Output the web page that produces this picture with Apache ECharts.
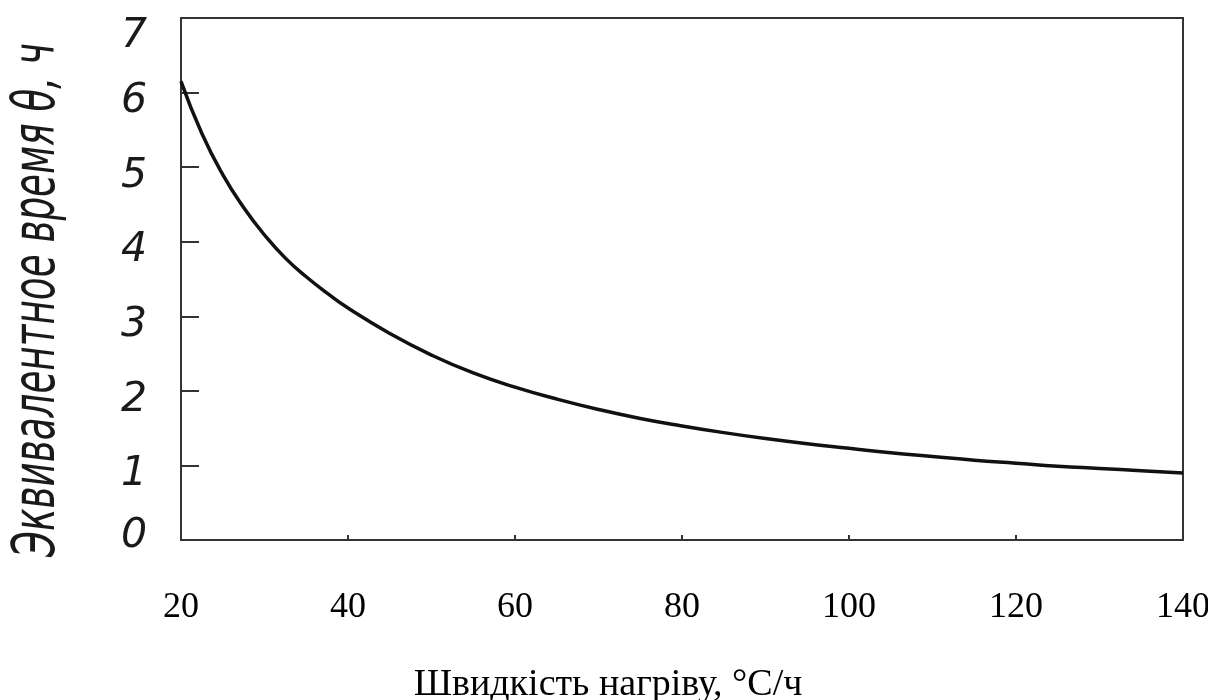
<!DOCTYPE html>
<html>
<head>
<meta charset="utf-8">
<script src="https://cdn.jsdelivr.net/npm/echarts@6/dist/echarts.min.js"></script>
<style>
  html, body { margin: 0; padding: 0; background: #fff; }
  #chart { width: 1208px; height: 700px; }
</style>
</head>
<body>
<div id="chart"></div>
<script>
// Heating rate, °C/h
const heatingRate = [20, 22.5, 25, 27.5, 30, 32.5, 35, 37.5, 40, 45, 50, 55, 60, 65, 70, 75, 80, 85, 90, 95, 100, 105, 110, 115, 120, 125, 130, 135, 140];
// Equivalent time θ, h
const equivTime = [6.15, 5.45, 4.90, 4.46, 4.09, 3.78, 3.53, 3.31, 3.11, 2.77, 2.48, 2.24, 2.05, 1.89, 1.75, 1.63, 1.53, 1.44, 1.36, 1.29, 1.23, 1.17, 1.12, 1.07, 1.03, 0.99, 0.96, 0.93, 0.90];

const xTitle = 'Швидкість нагріву, °С/ч';
const yTitle = 'Эквивалентное время θ, ч';

const frameColor = '#333';

// Rotated y title is drawn condensed along its length
const yTitleFont = 'italic 58px "DejaVu Sans"';
const yTitleLength = 514;
const ctx = document.createElement('canvas').getContext('2d');
ctx.font = yTitleFont;
const yTitleScale = yTitleLength / ctx.measureText(yTitle).width;

const chart = echarts.init(document.getElementById('chart'), null, { renderer: 'canvas' });

const yLabelStyle = { fontFamily: '"DejaVu Sans", sans-serif', fontStyle: 'italic', fontSize: 41, color: '#1a1a1a' };

function yLabel(v) {
  if (v === 0) return '{low|' + v + '}';
  if (v === 7) return '{top|' + v + '}';
  return '{n|' + v + '}';
}

chart.setOption({
  animation: false,
  backgroundColor: '#fff',
  grid: {
    left: 181, right: 25, top: 18, bottom: 160,
    outerBoundsMode: 'none',
    show: true, borderColor: frameColor, borderWidth: 2, backgroundColor: 'transparent'
  },
  xAxis: {
    type: 'value',
    min: 20, max: 140, interval: 20,
    name: xTitle,
    nameLocation: 'middle',
    nameGap: 126,
    nameTextStyle: {
      fontFamily: '"Liberation Serif", serif', fontSize: 38, color: '#000',
      padding: [0, 148, 0, 0]
    },
    axisLine: { show: true, lineStyle: { color: frameColor, width: 2 } },
    axisTick: { show: true, inside: true, length: 5, lineStyle: { color: frameColor, width: 2 } },
    axisLabel: {
      margin: 50,
      fontFamily: '"Liberation Serif", serif', fontSize: 36, color: '#000'
    },
    splitLine: { show: false }
  },
  yAxis: {
    type: 'value',
    min: 0, max: 7, interval: 1,
    axisLine: { show: true, lineStyle: { color: frameColor, width: 2 } },
    axisTick: { show: true, inside: true, length: 18, lineStyle: { color: frameColor, width: 2 } },
    axisLabel: Object.assign({
      margin: 34,
      formatter: yLabel,
      rich: {
        n: Object.assign({ padding: [18, 0, 0, 0] }, yLabelStyle),
        low: Object.assign({ padding: [0, 0, 8, 0] }, yLabelStyle),
        top: Object.assign({ padding: [36, 0, 0, 0] }, yLabelStyle)
      }
    }, yLabelStyle),
    splitLine: { show: false }
  },
  graphic: [{
    type: 'text',
    x: 39, y: 300,
    rotation: Math.PI / 2,
    scaleX: yTitleScale, scaleY: 1,
    style: {
      text: yTitle,
      font: yTitleFont,
      fill: '#1a1a1a',
      textAlign: 'center',
      textVerticalAlign: 'middle'
    }
  }],
  series: [{
    type: 'line',
    data: heatingRate.map((x, i) => [x, equivTime[i]]),
    smooth: true,
    showSymbol: false,
    lineStyle: { color: '#111', width: 3.5 }
  }]
});
</script>
</body>
</html>
